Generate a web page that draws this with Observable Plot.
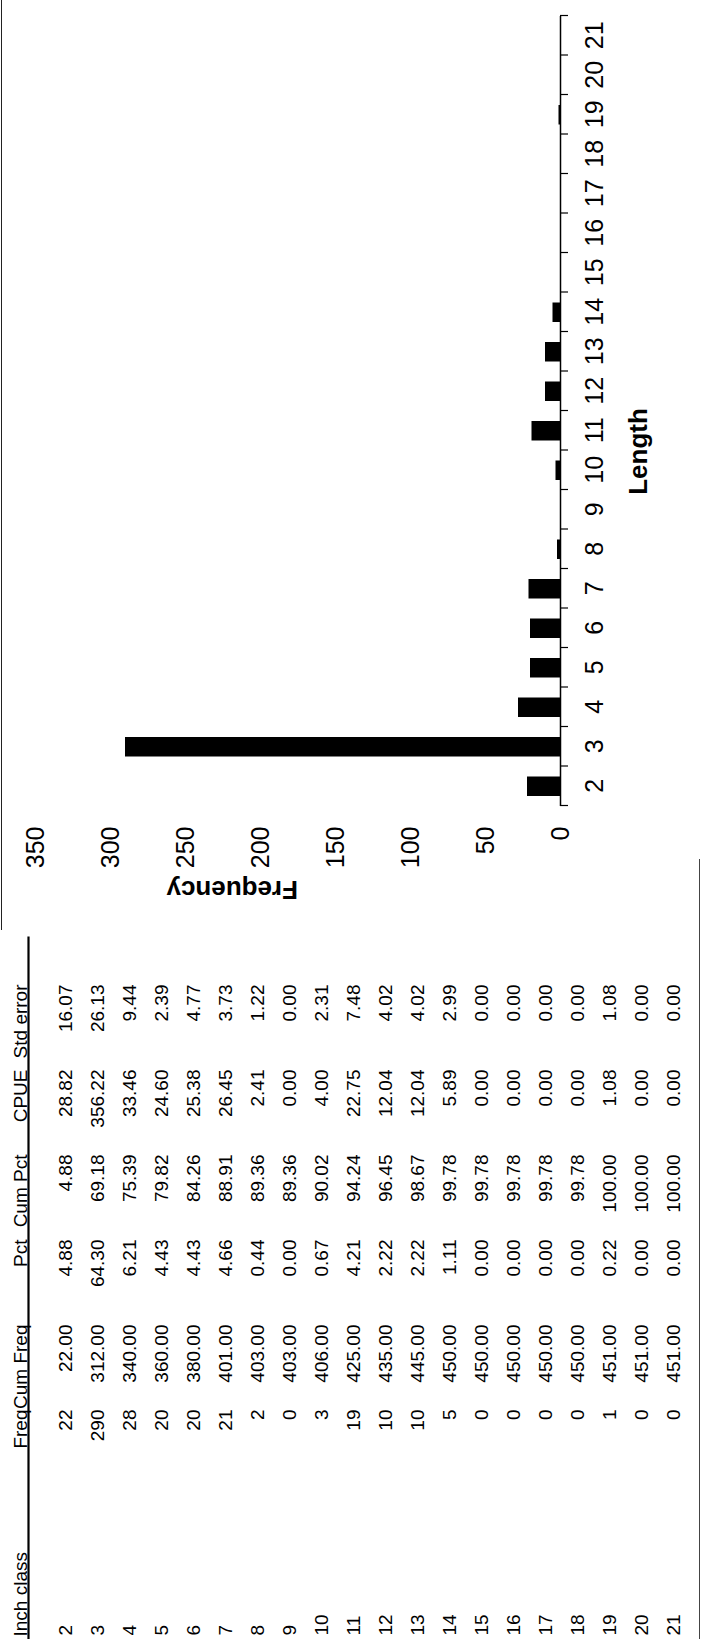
<!DOCTYPE html>
<html>
<head>
<meta charset="utf-8">
<script src="https://cdn.jsdelivr.net/npm/d3@7"></script>
<script src="https://cdn.jsdelivr.net/npm/@observablehq/plot@0.6"></script>
<style>
  html, body { margin: 0; padding: 0; background: #fff; overflow: hidden; width: 702px; height: 1639px; }
  #page { position: absolute; left: 0; top: 0; width: 1639px; height: 702px;
          transform-origin: 0 0; transform: translate(0px, 1639px) rotate(-90deg); background: #fff; }
  #table { position: absolute; left: 0; top: 0; }
  #chart { position: absolute; left: 702px; top: 0; }
  #topBorder { position: absolute; left: 709px; top: 1px; width: 930px; height: 0; border-top: 1.5px solid #222; }
  #tableBorder { position: absolute; left: 0px; top: 699px; width: 780px; height: 0; border-top: 1.5px solid #444; }
  svg { font-family: Arial, "Liberation Sans", sans-serif; }
</style>
</head>
<body>
<div id="page"><div id="table"></div><div id="chart"></div><div id="topBorder"></div><div id="tableBorder"></div></div>
<script>
// ---- data ----
const inchClass = [2, 3, 4, 5, 6, 7, 8, 9, 10, 11, 12, 13, 14, 15, 16, 17, 18, 19, 20, 21];
const freq      = [22, 290, 28, 20, 20, 21, 2, 0, 3, 19, 10, 10, 5, 0, 0, 0, 0, 1, 0, 0];
const cumFreq   = [22, 312, 340, 360, 380, 401, 403, 403, 406, 425, 435, 445, 450, 450, 450, 450, 450, 451, 451, 451];
const pct       = [4.88, 64.30, 6.21, 4.43, 4.43, 4.66, 0.44, 0.00, 0.67, 4.21, 2.22, 2.22, 1.11, 0, 0, 0, 0, 0.22, 0, 0];
const cumPct    = [4.88, 69.18, 75.39, 79.82, 84.26, 88.91, 89.36, 89.36, 90.02, 94.24, 96.45, 98.67, 99.78, 99.78, 99.78, 99.78, 99.78, 100, 100, 100];
const cpue      = [28.82, 356.22, 33.46, 24.60, 25.38, 26.45, 2.41, 0, 4.00, 22.75, 12.04, 12.04, 5.89, 0, 0, 0, 0, 1.08, 0, 0];
const stdError  = [16.07, 26.13, 9.44, 2.39, 4.77, 3.73, 1.22, 0, 2.31, 7.48, 4.02, 4.02, 2.99, 0, 0, 0, 0, 1.08, 0, 0];
const columns   = ["Freq", "Cum Freq", "Pct", "Cum Pct", "CPUE", "Std error"];
const firstColumn = "Inch class";
const yTicks    = [0, 50, 100, 150, 200, 250, 300, 350];
const xTitle = "Length";
const yTitle = "Frequency";

// ---- table ----
const f2 = d3.format(".2f");
const colValues = {
  "Freq": freq.map(d => String(d)),
  "Cum Freq": cumFreq.map(f2),
  "Pct": pct.map(f2),
  "Cum Pct": cumPct.map(f2),
  "CPUE": cpue.map(f2),
  "Std error": stdError.map(f2)
};
const cells = [];
columns.forEach(c => inchClass.forEach((r, i) => cells.push({col: c, row: r, text: colValues[c][i]})));

const tableFont = 19;
const table = Plot.plot({
  width: 720, height: 702,
  marginLeft: 0, marginRight: 19, marginTop: 28, marginBottom: 6,
  x: {type: "point", domain: columns, range: [186, 696], axis: null},
  y: {type: "point", domain: inchClass, range: [45, 692], axis: null},
  style: {fontFamily: "Arial, 'Liberation Sans', sans-serif", background: "transparent"},
  marks: [
    Plot.frame({anchor: "top", stroke: "black", strokeWidth: 2.2}),
    Plot.text(columns, {x: d => d, frameAnchor: "top", dy: -15, textAnchor: "end", fontSize: tableFont, fill: "black"}),
    Plot.text([firstColumn], {frameAnchor: "top-left", dx: 2, dy: -15, textAnchor: "start", fontSize: tableFont, fill: "black"}),
    Plot.text(inchClass, {y: d => d, text: d => String(d), frameAnchor: "left", dx: 3, textAnchor: "start", fontSize: tableFont, fill: "black"}),
    Plot.text(cells, {x: "col", y: "row", text: "text", textAnchor: "end", fontSize: tableFont, fill: "black"})
  ]
});
document.getElementById("table").appendChild(table);

// ---- bar chart ----
const bars = inchClass.map((c, i) => ({cls: c, freq: freq[i]}));
const boundaries = [inchClass[0] - 0.5, ...inchClass.map(c => c + 0.5)];
const chart = Plot.plot({
  width: 937, height: 702,
  marginLeft: 131, marginRight: 16, marginTop: 35, marginBottom: 142,
  x: {type: "linear", domain: [d3.min(inchClass) - 0.5, d3.max(inchClass) + 0.5]},
  y: {type: "linear", domain: d3.extent(yTicks)},
  style: {fontFamily: "Arial, 'Liberation Sans', sans-serif", background: "transparent", color: "black"},
  marks: [
    Plot.rectY(bars, {x1: d => d.cls - 0.5, x2: d => d.cls + 0.5, y: "freq", fill: "black", insetLeft: 10, insetRight: 10}),
    Plot.ruleY([0], {stroke: "black", strokeWidth: 1.5}),
    Plot.axisX({ticks: boundaries, tickSize: 8, tickFormat: () => "", label: null, strokeWidth: 1.2}),
    Plot.axisX({ticks: inchClass, tickSize: 0, tickPadding: 25, fontSize: 25, tickFormat: d3.format("d"), label: null}),
    Plot.axisY({ticks: yTicks, tickSize: 0, tickPadding: 21, fontSize: 25, label: null}),
    Plot.text([yTitle], {frameAnchor: "left", rotate: -90, dx: -84, fontSize: 26, fontWeight: "bold", fill: "black"}),
    Plot.text([xTitle], {frameAnchor: "bottom", dx: -41, dy: 86, fontSize: 26, fontWeight: "bold", fill: "black"})
  ]
});
document.getElementById("chart").appendChild(chart);
</script>
</body>
</html>
